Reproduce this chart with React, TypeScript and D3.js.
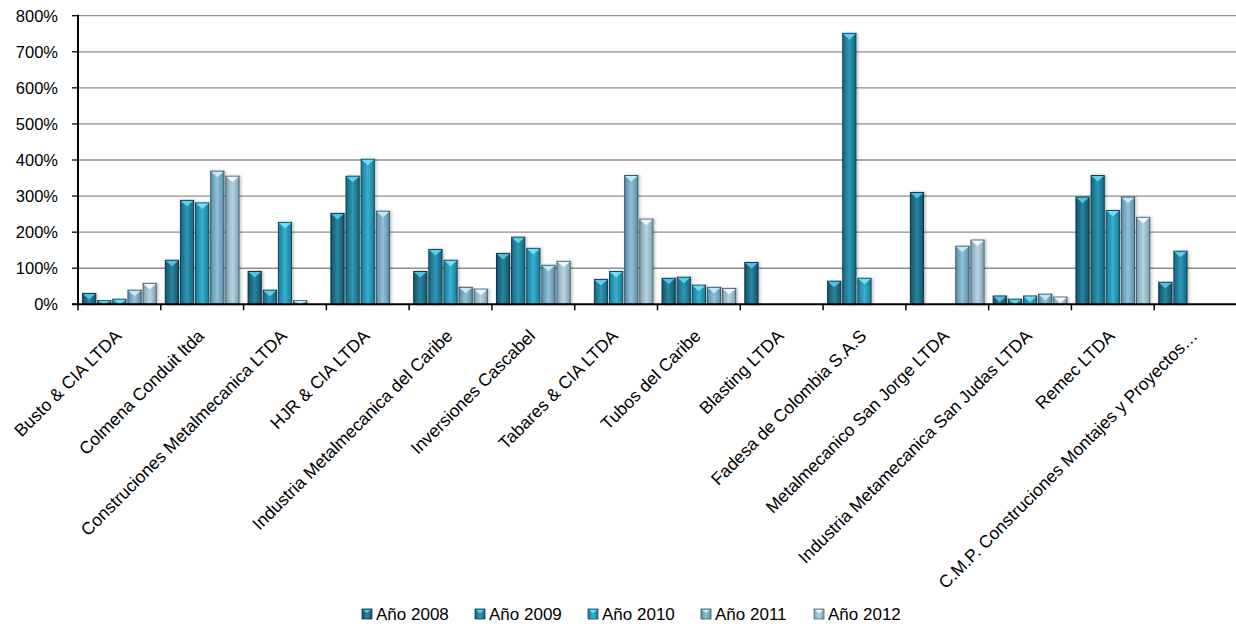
import React from 'react';
import * as d3 from 'd3';

const categories = [
  'Busto & CIA LTDA',
  'Colmena Conduit ltda',
  'Construciones Metalmecanica LTDA',
  'HJR & CIA LTDA',
  'Industria Metalmecanica del Caribe',
  'Inversiones Cascabel',
  'Tabares & CIA LTDA',
  'Tubos del Caribe',
  'Blasting LTDA',
  'Fadesa de Colombia S.A.S',
  'Metalmecanico San Jorge LTDA',
  'Industria Metamecanica San Judas LTDA',
  'Remec LTDA',
  'C.M.P. Construciones Montajes y Proyectos…',
];

const years = ['Año 2008', 'Año 2009', 'Año 2010', 'Año 2011', 'Año 2012'];

// values in %
const ano2008 = [30, 122, 91, 252, 91, 141, 0, 72, 116, 64, 310, 23, 297, 61];
const ano2009 = [11, 288, 39, 355, 152, 186, 69, 75, 0, 751, 0, 14, 357, 147];
const ano2010 = [14, 281, 227, 402, 122, 155, 91, 53, 0, 72, 0, 23, 260, 0];
const ano2011 = [39, 369, 11, 258, 47, 108, 357, 47, 0, 0, 161, 28, 297, 0];
const ano2012 = [58, 355, 0, 0, 42, 119, 236, 44, 0, 0, 178, 20, 241, 0];

const yTicks = [0, 100, 200, 300, 400, 500, 600, 700, 800];

// edge, center, top highlight, outline
const palette = [
  { edge: '#12526a', mid: '#2a86a0', top: '#4fc4e0', line: '#0c3442' },
  { edge: '#15657f', mid: '#2f98b5', top: '#5dd2ee', line: '#0d3f50' },
  { edge: '#197a98', mid: '#38b0d0', top: '#70def7', line: '#0f4a5c' },
  { edge: '#5a8ea8', mid: '#92c1d8', top: '#c6e9f7', line: '#36586a' },
  { edge: '#7da2b4', mid: '#b8d3e0', top: '#eef8fc', line: '#4a6470' },
];

const FONT = '"Liberation Sans", Arial, sans-serif';

const Bar = ({ x, y, w, h, i }: { x: number; y: number; w: number; h: number; i: number }) => {
  const th = Math.min(6, h);
  return (
    <g>
      <rect x={x} y={y} width={w} height={h} fill={`url(#grad${i})`} stroke={palette[i].line} strokeWidth={1} filter="url(#shadow)" />
      <path
        d={`M${x + 1},${y + 1}L${x + w - 1},${y + 1}L${x + w / 2},${y + th}Z`}
        fill={palette[i].top}
      />
      <line x1={x + 1} x2={x + w - 1} y1={y + 1} y2={y + 1} stroke={palette[i].top} strokeWidth={1} />
    </g>
  );
};

export default function App() {
  const width = 1236, height = 627;
  const left = 78, right = 1237, top = 15.7, bottom = 304.3;
  const series = [ano2008, ano2009, ano2010, ano2011, ano2012];

  const x0 = d3.scaleBand().domain(categories).range([left, right]).padding(0);
  const x1 = d3.scaleBand().domain(years).range([0, x0.bandwidth()]).paddingInner(0.13).paddingOuter(0.3);
  const y = d3.scaleLinear().domain([0, 800]).range([bottom, top]);

  const legendX = d3.scaleLinear().domain([0, years.length - 1]).range([362, 814]);

  return (
    <div style={{ position: 'absolute', left: 0, top: 0 }}>
      <svg width={width} height={height} style={{ display: 'block', fontFamily: FONT }}>
        <defs>
          {palette.map((p, i) => (
            <linearGradient key={i} id={`grad${i}`} x1="0" x2="1" y1="0" y2="0">
              <stop offset="0" stopColor={p.edge} />
              <stop offset="0.5" stopColor={p.mid} />
              <stop offset="1" stopColor={p.edge} />
            </linearGradient>
          ))}
          <filter id="shadow" x="-30%" y="-5%" width="160%" height="115%">
            <feDropShadow dx="1.5" dy="0" stdDeviation="1.5" floodColor="#000" floodOpacity="0.25" />
          </filter>
        </defs>

        {/* grid */}
        {yTicks.map(t => (
          <g key={t}>
            {t > 0 && <line x1={left} x2={width} y1={y(t)} y2={y(t)} stroke="#8e8e8e" strokeWidth={1.3} />}
            <line x1={left - 6} x2={left} y1={y(t)} y2={y(t)} stroke="#000" strokeWidth={1.3} />
            <text x={58} y={y(t)} dy="0.36em" textAnchor="end" fontSize={16.5} fill="#000">{`${t}%`}</text>
          </g>
        ))}

        {/* bars */}
        {categories.map((c, ci) => (
          <g key={c} transform={`translate(${x0(c)},0)`}>
            {series.map((s, si) =>
              s[ci] > 0 ? (
                <Bar key={si} i={si} x={x1(years[si])!} y={y(s[ci])} w={x1.bandwidth()} h={bottom - y(s[ci])} />
              ) : null
            )}
          </g>
        ))}

        {/* axes */}
        <line x1={left} x2={left} y1={top - 1} y2={bottom + 1} stroke="#000" strokeWidth={2} />
        <line x1={left - 6} x2={width} y1={bottom} y2={bottom} stroke="#000" strokeWidth={2} />
        {categories.map((c, ci) => (
          <line key={ci} x1={x0(c)!} x2={x0(c)!} y1={bottom} y2={bottom + 6} stroke="#000" strokeWidth={1.5} />
        ))}

        {/* category labels */}
        {categories.map(c => (
          <text
            key={c}
            transform={`translate(${x0(c)! + x0.bandwidth() / 2 + 3},337) rotate(-45)`}
            textAnchor="end"
            fontSize={17.5}
            fill="#000"
          >
            {c}
          </text>
        ))}

        {/* legend */}
        {years.map((yr, i) => (
          <g key={yr} transform={`translate(${legendX(i)},609)`}>
            <rect x={0} y={0} width={10} height={10} fill={`url(#grad${i})`} stroke={palette[i].line} strokeWidth={0.8} />
            <path d="M1,1L9,1L5,4Z" fill={palette[i].top} />
            <text x={14} y={5} dy="0.36em" fontSize={17} fill="#000">{yr}</text>
          </g>
        ))}
      </svg>
    </div>
  );
}
